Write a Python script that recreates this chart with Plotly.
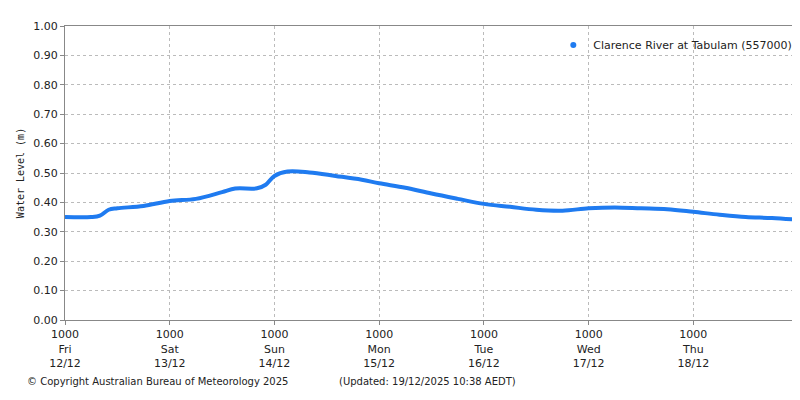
import plotly.graph_objects as go

# water level readings (local time, AEDT)
times = [
    "2025-12-12 10:00", "2025-12-12 16:00", "2025-12-12 18:00", "2025-12-12 20:00",
    "2025-12-12 22:00", "2025-12-13 04:00", "2025-12-13 10:00", "2025-12-13 16:00",
    "2025-12-13 22:00", "2025-12-14 01:00", "2025-12-14 06:00", "2025-12-14 08:00",
    "2025-12-14 10:00", "2025-12-14 13:00", "2025-12-14 18:00", "2025-12-15 00:00",
    "2025-12-15 06:00", "2025-12-15 10:00", "2025-12-15 16:00", "2025-12-15 22:00",
    "2025-12-16 04:00", "2025-12-16 10:00", "2025-12-16 16:00", "2025-12-16 22:00",
    "2025-12-17 04:00", "2025-12-17 10:00", "2025-12-17 16:00", "2025-12-17 22:00",
    "2025-12-18 04:00", "2025-12-18 10:00", "2025-12-18 16:00", "2025-12-18 22:00",
    "2025-12-19 04:00", "2025-12-19 10:38",
]
levels = [
    0.350, 0.350, 0.355, 0.375, 0.380, 0.388, 0.405, 0.412, 0.435, 0.447,
    0.448, 0.460, 0.490, 0.505, 0.502, 0.490, 0.477, 0.465, 0.450, 0.430,
    0.412, 0.395, 0.385, 0.375, 0.372, 0.380, 0.383, 0.380, 0.377, 0.368,
    0.358, 0.350, 0.347, 0.340,
]

tick_times = ["2025-12-12 10:00", "2025-12-13 10:00", "2025-12-14 10:00", "2025-12-15 10:00",
              "2025-12-16 10:00", "2025-12-17 10:00", "2025-12-18 10:00"]
tick_labels = ["1000<br>Fri<br>12/12", "1000<br>Sat<br>13/12", "1000<br>Sun<br>14/12",
               "1000<br>Mon<br>15/12", "1000<br>Tue<br>16/12", "1000<br>Wed<br>17/12",
               "1000<br>Thu<br>18/12"]

blue = "#1f7bf0"
name = "Clarence River at Tabulam (557000)"

fig = go.Figure()
fig.add_trace(go.Scatter(
    x=times, y=levels, mode="lines",
    line=dict(color=blue, width=4, shape="spline"),
    showlegend=False,
))
# legend entry: a single dot
fig.add_trace(go.Scatter(
    x=[None], y=[None], mode="markers",
    marker=dict(color=blue, size=6), name=name,
))

fig.update_layout(
    width=800, height=400,
    margin=dict(l=57, r=7, t=18, b=88),
    plot_bgcolor="white", paper_bgcolor="white",
    font=dict(family="DejaVu Sans", size=10, color="#222"),
    showlegend=True,
    legend=dict(x=0.995, y=0.985, xanchor="right", yanchor="top", bgcolor="rgba(0,0,0,0)",
                font=dict(size=11), itemwidth=30),
    xaxis=dict(
        range=["2025-12-12 10:00", "2025-12-19 10:40"],
        tickvals=tick_times, ticktext=tick_labels,
        showgrid=True, gridcolor="#bbb", griddash="dot",
        showline=True, linecolor="#888", mirror=True,
        ticks="outside", ticklen=4, tickcolor="#888", automargin=False,
        tickfont=dict(size=11),
    ),
    yaxis=dict(
        range=[0, 1], dtick=0.1, tickformat=".2f",
        showgrid=True, gridcolor="#bbb", griddash="dot",
        showline=True, linecolor="#888", mirror=True,
        ticks="outside", ticklen=4, tickcolor="#888", automargin=False,
        tickfont=dict(size=11),
        title=dict(text="Water Level (m)", font=dict(family="DejaVu Sans Mono", size=10), standoff=6),
    ),
    annotations=[
        dict(text="© Copyright Australian Bureau of Meteorology 2025", xref="paper", yref="paper",
             x=-0.055, y=-0.235, xanchor="left", showarrow=False, font=dict(size=10)),
        dict(text="(Updated: 19/12/2025 10:38 AEDT)", xref="paper", yref="paper",
             x=0.37, y=-0.235, xanchor="left", showarrow=False, font=dict(size=10)),
    ],
)

fig.write_html("out.html")
